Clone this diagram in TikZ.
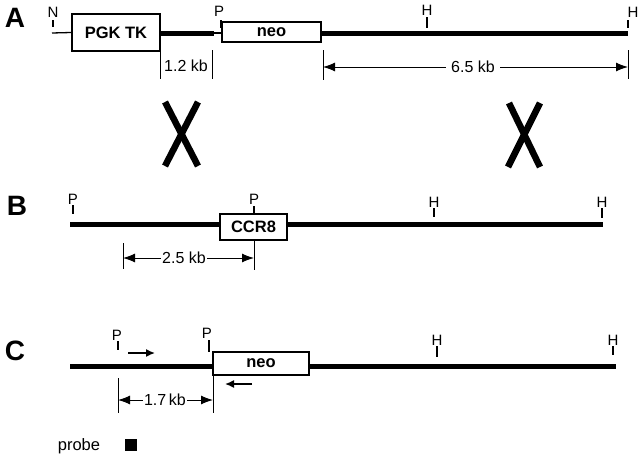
\documentclass[tikz,border=0pt]{standalone}
\usepackage{fontspec}
\setmainfont{Liberation Sans}
\usetikzlibrary{arrows.meta}
\begin{document}
\begin{tikzpicture}[x=1pt,y=-1pt,
  dna/.style={line width=5pt},
  thindna/.style={line width=1.3pt},
  gene/.style={draw,line width=2pt,fill=white,inner sep=0pt,
    font=\bfseries\fontsize{16.5}{16.5}\selectfont},
  site/.style={font=\fontsize{15}{15}\selectfont,inner sep=0pt},
  tickmark/.style={line width=1.1pt},
  dimbar/.style={line width=1pt},
  dimarrow/.style={line width=1pt,{Latex[length=12pt,width=9pt]}-{Latex[length=12pt,width=9pt]}},
  primer/.style={line width=1.5pt,-{Latex[length=9pt,width=8pt]}},
  panel/.style={font=\bfseries\fontsize{28}{28}\selectfont,inner sep=0pt},
  dimlab/.style={font=\fontsize{16}{16}\selectfont,fill=white,inner sep=1.5pt},
  cross/.style={line width=6.5pt}
]
\useasboundingbox (0,0) rectangle (640,455);

% ---------------- Panel A ----------------
\node[panel] (lA) at (15,18) {A};
\node[gene,minimum width=88pt,minimum height=37pt] (pgk) at (116,32.5) {PGK TK};
\coordinate (aL) at (52,33);
\coordinate (aM) at (214,33);
\coordinate (aR) at (628,33);
\coordinate (neoAW) at (222,33);
\coordinate (neoAE) at (321,33);
\draw[thindna] (aL) -- (pgk.west);
\draw[dna] (pgk.east |- aM) -- (aM);
\draw[thindna] (aM) -- (neoAW);
\draw[dna] (neoAE) -- (aR);
\node[gene,minimum width=99pt,minimum height=20pt] (neoA) at (271.5,32) {neo};

\node[site] (nA) at (53,12) {N};
\coordinate (nAt) at (53,27);
\draw[tickmark] (53,20) -- (nAt);
\node[site] (pA) at (219,11) {P};
\coordinate (pAt) at (221,28);
\draw[tickmark] (221,20) -- (pAt);
\node[site] (hA1) at (427,10) {H};
\coordinate (hA1t) at (427,28);
\draw[tickmark] (427,17) -- (hA1t);
\node[site] (hA2) at (633,12) {H};
\coordinate (hA2t) at (628,28);
\draw[tickmark] (628,20) -- (hA2t);

% 1.2 kb
\coordinate (d1a) at (160,50); \coordinate (d1b) at (160,79);
\coordinate (d2a) at (212,50); \coordinate (d2b) at (212,79);
\draw[dimbar] (d1a) -- (d1b);
\draw[dimbar] (d2a) -- (d2b);
\node[dimlab,fill=none] (k12) at (186,66) {1.2 kb};
% 6.5 kb
\coordinate (d3a) at (323,50); \coordinate (d3b) at (323,80);
\coordinate (d4a) at (628,50); \coordinate (d4b) at (628,79);
\draw[dimbar] (d3a) -- (d3b);
\draw[dimbar] (d4a) -- (d4b);
\coordinate (d3m) at (323,67); \coordinate (d4m) at (628,67);
\draw[dimarrow] (d3m) -- (d4m);
\node[dimlab,inner xsep=5pt] (k65) at (473,67) {6.5 kb};

% crossovers
\draw[cross] (165,102) -- (198,166);
\draw[cross] (198,102) -- (165,166);
\draw[cross] (509,103) -- (540,167);
\draw[cross] (540,103) -- (508,167);

% ---------------- Panel B ----------------
\node[panel] (lB) at (17,206) {B};
\coordinate (bL) at (70,224);
\coordinate (bR) at (603,224);
\draw[dna] (bL) -- (bR);
\node[gene,minimum width=67pt,minimum height=26pt] (ccr) at (253.5,227) {CCR8};

\node[site] (pB1) at (73,199) {P};
\draw[tickmark] (73,205) -- (73,214);
\node[site] (pB2) at (254,199) {P};
\draw[tickmark] (254,206) -- (ccr.north -| 254,0);
\node[site] (hB1) at (434,202) {H};
\draw[tickmark] (434,208) -- (434,217);
\node[site] (hB2) at (602,202) {H};
\draw[tickmark] (602,208) -- (602,218);

\coordinate (e1a) at (123,243); \coordinate (e1b) at (123,269);
\coordinate (e2a) at (254,240); \coordinate (e2b) at (254,270);
\draw[dimbar] (e1a) -- (e1b);
\draw[dimbar] (e2a) -- (e2b);
\coordinate (e1m) at (123,258); \coordinate (e2m) at (254,258);
\draw[dimarrow] (e1m) -- (e2m);
\node[dimlab] (k25) at (184,258) {2.5 kb};

% ---------------- Panel C ----------------
\node[panel] (lC) at (15,351) {C};
\coordinate (cL) at (70,366);
\coordinate (cR) at (616,366);
\draw[dna] (cL) -- (cR);
\node[gene,minimum width=96pt,minimum height=23pt] (neoC) at (261,363.5) {neo};

\node[site] (pC1) at (117,335) {P};
\draw[tickmark] (118,341) -- (118,350);
\node[site] (pC2) at (207,333) {P};
\draw[tickmark] (209,340) -- (209,352);
\node[site] (hC1) at (437,340) {H};
\draw[tickmark] (437,346) -- (437,357);
\node[site] (hC2) at (613,340) {H};
\draw[tickmark] (613,346) -- (613,355);

\coordinate (pr1s) at (128,353); \coordinate (pr1e) at (155,353);
\draw[primer] (pr1s) -- (pr1e);
\coordinate (pr2s) at (252,384); \coordinate (pr2e) at (225,384);
\draw[primer] (pr2s) -- (pr2e);

\coordinate (f1a) at (118,378); \coordinate (f1b) at (118,413);
\coordinate (f2a) at (213,375); \coordinate (f2b) at (213,413);
\draw[dimbar] (f1a) -- (f1b);
\draw[dimbar] (f2a) -- (f2b);
\coordinate (f1m) at (118,400); \coordinate (f2m) at (213,400);
\draw[dimarrow] (f1m) -- (f2m);
\node[dimlab,inner xsep=1pt] (k17) at (165,400) {1.7\,kb};

% probe legend
\node[font=\fontsize{16.5}{16.5}\selectfont,inner sep=0pt] (probe) at (79,446) {probe};
\node[fill=black,minimum size=12pt,inner sep=0pt] (probesq) at (131,445) {};
\end{tikzpicture}
\end{document}
